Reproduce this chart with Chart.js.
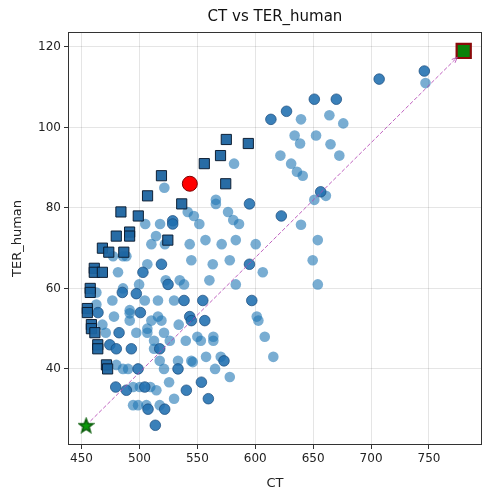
<!DOCTYPE html>
<html><head><meta charset="utf-8">
<script src="https://cdn.jsdelivr.net/npm/chart.js@4"></script>
<style>html,body{margin:0;padding:0;background:#fff}#wrap{width:483px;height:491px}</style>
</head><body><div id="wrap"><canvas id="c" width="483" height="491"></canvas></div>
<script>
const chartTitle = 'CT vs TER_human';
const xLabel = 'CT';
const yLabel = 'TER_human';
const xTicks = [450, 500, 550, 600, 650, 700, 750];
const yTicks = [40, 60, 80, 100, 120];

// Pareto-type points (dark squares)
const squareCT  = [575, 594, 570, 556, 519, 574.5, 507, 536.5, 484, 499, 480, 491.5, 491.5, 524.5, 468, 473.5, 486.5, 461, 461, 468, 457.5, 457.5, 455, 455, 458.5, 458.5, 461.5, 464, 464, 471.5, 472.5];
const squareTER = [97, 96, 93, 91, 88, 86, 83, 81, 79, 78, 73, 74, 73, 72, 70, 69, 69, 65, 64, 64, 60, 59, 55, 54, 51, 50, 49, 46, 45, 41, 40];

// denser (darker) circles
const darkCT  = [746, 707, 651, 670, 627, 613.5, 595, 622.5, 528.7, 528.7, 519, 503, 524.7, 485.2, 497.3, 538.5, 554.7, 597, 595, 500.8, 464.2, 543.4, 544.8, 556.4, 482.4, 474.4, 480, 493, 517.5, 533.3, 498.8, 479.5, 488.7, 504.6, 540.5, 553.5, 559.5, 507.4, 521.8, 513.7, 573, 656.5];
const darkTER = [114, 112, 107, 107, 104, 102, 81, 78, 76.8, 76, 66, 64, 61, 59, 58.7, 57, 57, 57, 66, 54, 54, 53, 52, 52, 49, 46, 45, 45, 45, 40, 40, 35.5, 34.7, 35.5, 34.7, 36.7, 32.6, 30, 30, 26, 42, 84];

// remaining circles
const lightCT  = [747, 639.5, 664, 676, 634, 638.7, 652.5, 665, 672.6, 621.7, 631, 636, 641, 661, 639.5, 581.7, 521.5, 566, 566, 541.7, 547, 551.7, 576.5, 581, 586, 505, 517.8, 514.3, 510.3, 522, 543.4, 544.8, 557, 477.2, 485.8, 488.7, 506.8, 522.7, 534.8, 538.5, 485.8, 499.7, 462.8, 476.6, 504.6, 516, 529.9, 462.8, 478, 491.6, 491.6, 491.6, 506.8, 506.8, 510.3, 516, 519, 521.2, 533.9, 468, 470.9, 497.3, 526.2, 540, 550, 553, 512.6, 512.6, 517.5, 521.2, 533.3, 544.8, 546, 525.6, 480, 485.8, 490.2, 494.5, 500.3, 509.4, 514.6, 529.9, 494.5, 498.8, 506, 517.5, 578, 565.3, 570.2, 557.5, 563.8, 563.8, 601.3, 602.7, 600.4, 583.2, 578, 583.2, 571, 563.3, 560.4, 606.5, 654, 649.6, 654, 608.2, 615.6, 481.5, 651];
const lightTER = [111, 102, 103, 101, 98, 96, 98, 95.8, 93, 93, 91, 89, 88, 83, 75.8, 91, 85, 82, 81, 79, 78, 76, 79, 77, 76, 76, 76, 73, 71, 71, 71, 67, 72, 68, 68, 68, 66, 62, 62, 61, 60, 61, 59, 57, 57, 57, 57, 56, 53, 54.6, 53.8, 52, 50, 49, 52, 53, 52, 49, 51, 51, 49, 49, 47, 47, 48, 47, 45, 47, 42, 40, 42, 42, 41.7, 36.7, 41, 40, 40, 35.5, 35.5, 35.5, 34.7, 32.6, 31, 31, 31, 31, 38, 40, 43, 43, 48, 47, 53, 52, 71, 61, 67, 72, 71, 66, 62, 64, 72, 67, 61, 48, 43, 64, 82];

const redCT = [543.5], redTER = [86];
const startCT = [454], startTER = [26];
const endCT = [780], endTER = [119];

function pts(xs, ys){ return xs.map((x,i)=>({x:x, y:ys[i]})); }

// filled star image for marker
function starImage(size){
  const cv = document.createElement('canvas');
  cv.width = size; cv.height = size;
  const g = cv.getContext('2d');
  const cx = size/2, cy = size/2 + 0.8, R = size/2 - 1.2, r = R*0.42;
  g.beginPath();
  for (let i=0;i<10;i++){
    const ang = -Math.PI/2 + i*Math.PI/5;
    const rr = i%2===0 ? R : r;
    const px = cx + rr*Math.cos(ang), py = cy + rr*Math.sin(ang);
    if(i===0) g.moveTo(px,py); else g.lineTo(px,py);
  }
  g.closePath();
  g.fillStyle = '#0a9a0a'; g.fill();
  g.lineWidth = 1.6; g.strokeStyle = '#0b5e0b'; g.stroke();
  return cv;
}

const FONT = 'DejaVu Sans';

const framePlugin = {
  id: 'frame',
  afterDraw(chart){
    const a = chart.chartArea, ctx = chart.ctx;
    ctx.save();
    ctx.strokeStyle = '#333'; ctx.lineWidth = 1;
    ctx.strokeRect(Math.round(a.left)+0.5, Math.round(a.top)+0.5, Math.round(a.right-a.left)-1, Math.round(a.bottom-a.top)-1);
    // title centred over the axes
    ctx.fillStyle = '#111';
    ctx.font = '15px "' + FONT + '"';
    ctx.textAlign = 'center'; ctx.textBaseline = 'middle';
    ctx.fillText(chartTitle, (a.left + a.right)/2, 17);
    ctx.restore();
  }
};

const arrowPlugin = {
  id: 'arrowhead',
  afterDatasetsDraw(chart){
    const xs = chart.scales.x, ys = chart.scales.y, ctx = chart.ctx;
    const x0 = xs.getPixelForValue(startCT[0]), y0 = ys.getPixelForValue(startTER[0]);
    const x1 = xs.getPixelForValue(endCT[0]), y1 = ys.getPixelForValue(endTER[0]);
    const ang = Math.atan2(y1-y0, x1-x0);
    const tx = x1 - 9*Math.cos(ang), ty = y1 - 9*Math.sin(ang);
    ctx.save();
    ctx.strokeStyle = 'rgba(180,70,180,0.85)'; ctx.lineWidth = 1;
    ctx.beginPath();
    ctx.moveTo(tx - 6*Math.cos(ang-0.4), ty - 6*Math.sin(ang-0.4));
    ctx.lineTo(tx, ty);
    ctx.lineTo(tx - 6*Math.cos(ang+0.4), ty - 6*Math.sin(ang+0.4));
    ctx.stroke();
    ctx.restore();
  }
};

new Chart(document.getElementById('c'), {
  type: 'scatter',
  data: {
    datasets: [
      { label:'best', data: pts(endCT, endTER), pointStyle:'rect', pointRadius:10, backgroundColor:'#0a820a', borderColor:'#8b0a0a', borderWidth:2.2, order:0 },
      { label:'start', data: pts(startCT, startTER), pointStyle: starImage(17), pointRadius:8, order:1 },
      { label:'path', type:'line', data: pts([startCT[0], endCT[0]],[startTER[0], endTER[0]]), borderColor:'rgba(180,70,180,0.85)', borderWidth:1, borderDash:[4,2], pointRadius:0, fill:false, order:2 },
      { label:'current', data: pts(redCT, redTER), pointStyle:'circle', pointRadius:7.5, backgroundColor:'#ff0000', borderColor:'#7a0000', borderWidth:1, order:3 },
      { label:'pareto', data: pts(squareCT, squareTER), pointStyle:'rect', pointRadius:7.2, backgroundColor:'rgba(28,100,160,0.95)', borderColor:'rgba(10,25,45,0.95)', borderWidth:1, order:4 },
      { label:'dense', data: pts(darkCT, darkTER), pointStyle:'circle', pointRadius:5.3, backgroundColor:'rgba(31,110,175,0.88)', borderColor:'rgba(25,75,125,0.9)', borderWidth:0.8, order:5 },
      { label:'others', data: pts(lightCT, lightTER), pointStyle:'circle', pointRadius:5.3, backgroundColor:'rgba(31,119,180,0.6)', borderColor:'rgba(31,119,180,0.6)', borderWidth:0, order:6 }
    ]
  },
  options: {
    responsive:false, animation:false, devicePixelRatio:1,
    layout:{ autoPadding:false, padding:{ left:0, right:1, top:32, bottom:0 } },
    plugins:{
      legend:{ display:false }, tooltip:{ enabled:false }, title:{ display:false }
    },
    scales:{
      x:{ type:'linear', min:438.3, max:795.8,
        afterBuildTicks(s){ s.ticks = xTicks.map(v=>({value:v})); },
        afterFit(s){ s.height = 46; s.paddingLeft = 0; s.paddingRight = 0; },
        grid:{ color:'rgba(0,0,0,0.1)', lineWidth:1, drawTicks:true, tickLength:4, tickColor:'#333' },
        border:{ display:false },
        ticks:{ color:'#222', font:{ family:FONT, size:12 }, padding:3, maxRotation:0, autoSkip:false },
        title:{ display:true, text:xLabel, color:'#222', font:{ family:FONT, size:13 }, padding:{ top:2, bottom:0 } }
      },
      y:{ type:'linear', min:21.1, max:123.7,
        afterBuildTicks(s){ s.ticks = yTicks.map(v=>({value:v})); },
        afterFit(s){ s.width = 68; s.paddingTop = 0; s.paddingBottom = 0; },
        grid:{ color:'rgba(0,0,0,0.1)', lineWidth:1, drawTicks:true, tickLength:4, tickColor:'#333' },
        border:{ display:false },
        ticks:{ color:'#222', font:{ family:FONT, size:12 }, padding:3, autoSkip:false },
        title:{ display:true, text:yLabel, color:'#222', font:{ family:FONT, size:13 }, padding:{ top:10, bottom:4 } }
      }
    }
  },
  plugins:[framePlugin, arrowPlugin]
});
</script></body></html>
